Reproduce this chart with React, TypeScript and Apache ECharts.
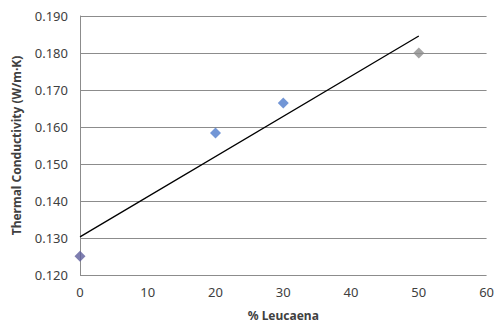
import React, { useEffect, useRef } from "react";
import * as echarts from "echarts";

const leucaenaPct = [0, 20, 30, 50];
const conductivity = [0.1251, 0.1584, 0.1665, 0.18];
const pointColors = ["#5e5e9c", "#4f7ccc", "#4f7ccc", "#8c8c8c"];
const trendX = [0, 50];
const trendY = [0.1303, 0.1846];

export default function App() {
  const ref = useRef<HTMLDivElement>(null);
  useEffect(() => {
    if (!ref.current) return;
    const chart = echarts.init(ref.current, null, { renderer: "svg" });
    const font = "'Noto Sans', 'Open Sans', sans-serif";
    chart.setOption({
      animation: false,
      backgroundColor: "#ffffff",
      grid: { left: 80, right: 7, top: 16, bottom: 54 },
      xAxis: {
        type: "value",
        min: 0,
        max: 60,
        interval: 10,
        name: "% Leucaena",
        nameLocation: "middle",
        nameGap: 34,
        nameTextStyle: { fontFamily: font, fontSize: 12, fontWeight: "bold", color: "#404040" },
        axisLine: { show: false },
        axisTick: { show: false },
        splitLine: { show: false },
        axisLabel: { fontFamily: font, fontSize: 13, color: "#404040", margin: 10 },
      },
      yAxis: {
        type: "value",
        min: 0.12,
        max: 0.19,
        interval: 0.01,
        name: "Thermal Conductivity (W/m·K)",
        nameLocation: "middle",
        nameGap: 58,
        nameTextStyle: { fontFamily: font, fontSize: 12, fontWeight: "bold", color: "#404040" },
        axisLine: { show: true, lineStyle: { color: "#8c8c8c", width: 1 } },
        axisTick: { show: false },
        splitLine: { show: true, lineStyle: { color: "#8c8c8c", width: 1 } },
        axisLabel: {
          fontFamily: font,
          fontSize: 13,
          color: "#404040",
          margin: 12,
          formatter: (v: number) => v.toFixed(3),
        },
      },
      series: [
        {
          type: "line",
          data: trendX.map((x, i) => [x, trendY[i]]),
          symbol: "none",
          lineStyle: { color: "#000000", width: 1.3 },
          z: 3,
        },
        {
          type: "scatter",
          symbol: "diamond",
          symbolSize: 11,
          data: leucaenaPct.map((x, i) => ({
            value: [x, conductivity[i]],
            itemStyle: { color: pointColors[i] },
          })),
          z: 4,
        },
      ],
    });
    return () => chart.dispose();
  }, []);
  return <div ref={ref} style={{ width: 497, height: 329, position: "absolute", left: 0, top: 0 }} />;
}
